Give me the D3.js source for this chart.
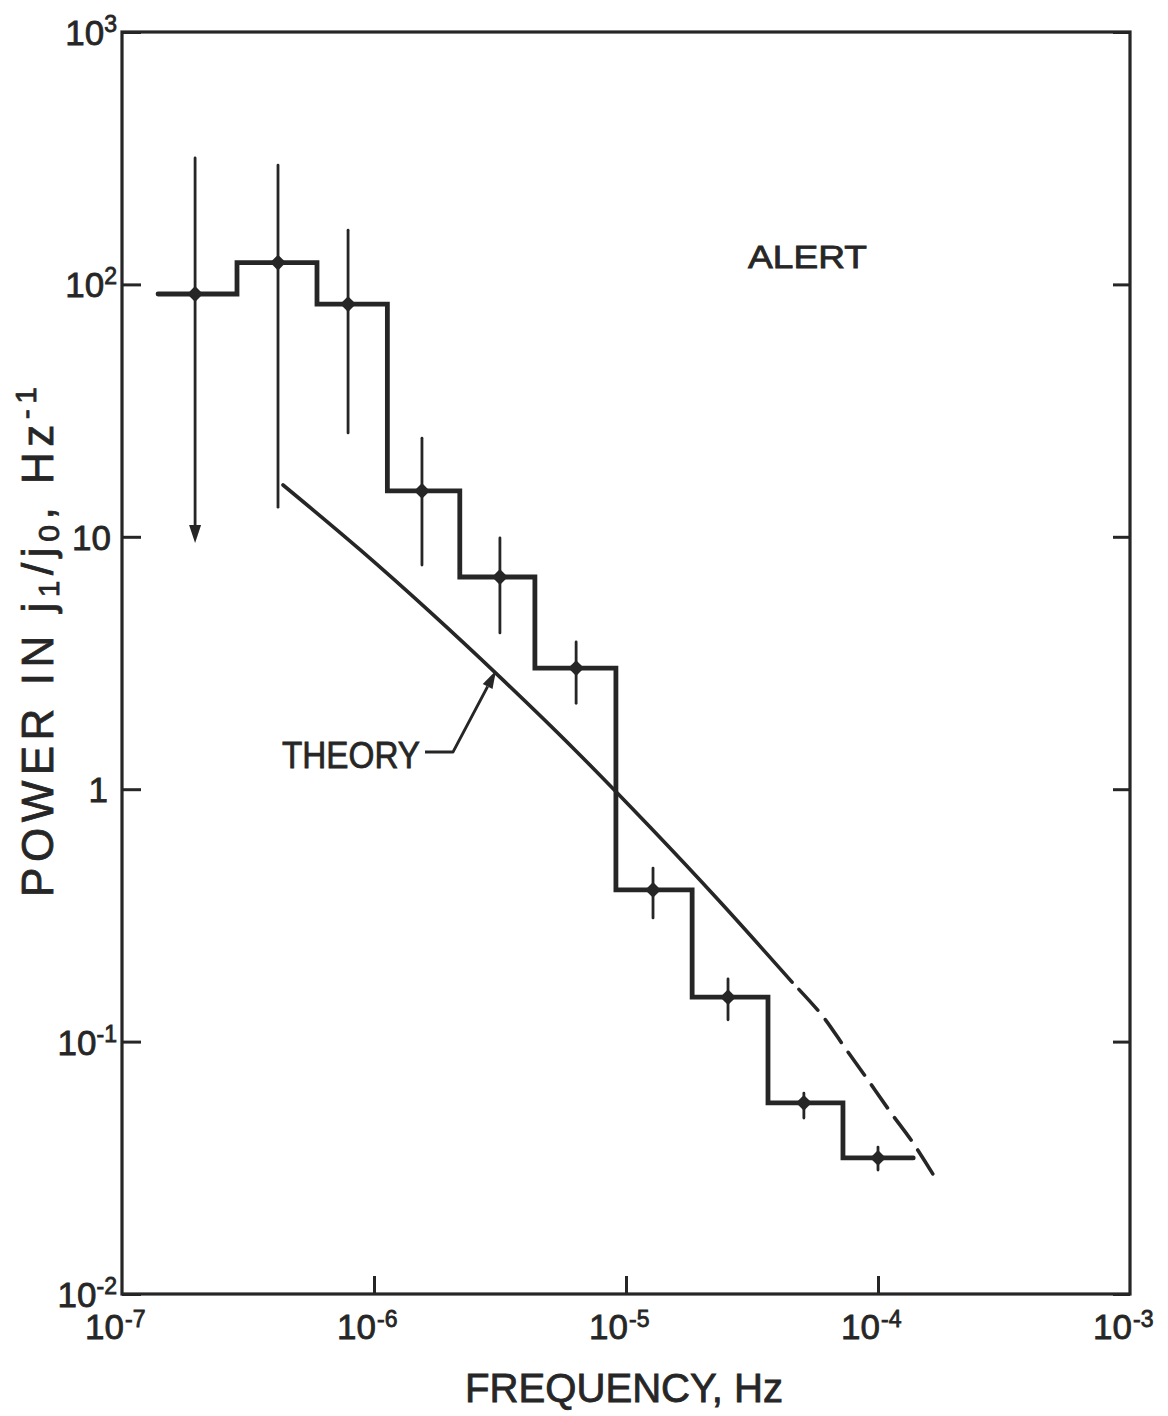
<!DOCTYPE html>
<html>
<head>
<meta charset="utf-8">
<script src="https://cdn.jsdelivr.net/npm/d3@7"></script>
<style>
  body { margin: 0; background: #ffffff; }
  svg { display: block; }
  text { font-family: "Liberation Sans", Arial, sans-serif; fill: #262626; stroke: #262626; stroke-width: 0.8; }
</style>
</head>
<body>
<svg id="chart" width="1168" height="1416"></svg>
<script>
// Histogram bins: edges in Hz and power level (Hz^-1) in each bin
const binEdges = [1.39e-7, 2.86e-7, 5.94e-7, 1.13e-6, 2.19e-6, 4.35e-6, 9.12e-6, 1.83e-5, 3.66e-5, 7.26e-5, 1.38e-4];
const binPower = [91.6, 122, 83.6, 15.2, 6.93, 3.02, 0.399, 0.150, 0.0572, 0.0346];

// Measured points with their error bars
const pointFreq  = [1.95e-7, 4.16e-7, 7.89e-7, 1.55e-6, 3.16e-6, 6.34e-6, 1.28e-5, 2.54e-5, 5.08e-5, 1.0e-4];
const pointPower = [91.6, 122, 83.6, 15.2, 6.93, 3.02, 0.399, 0.150, 0.0572, 0.0346];
const errUpper   = [317, 297, 164, 24.6, 9.89, 3.83, 0.487, 0.177, 0.0625, 0.0382];
const errLower   = [9.45, 13.1, 25.8, 7.73, 4.16, 2.19, 0.309, 0.122, 0.0498, 0.031];
const openLower  = [true, false, false, false, false, false, false, false, false, false];

// Theoretical spectrum: solid part, then dashed extrapolation
const theorySolidFreq  = [4.355e-7, 8.80e-7, 1.668e-6, 3.162e-6, 6.16e-6, 1.245e-5, 2.36e-5, 4.56e-5];
const theorySolidPower = [16.04, 8.89, 5.04, 2.78, 1.457, 0.708, 0.358, 0.172];
const theoryDashFreq   = [4.56e-5, 6.0e-5, 7.4e-5, 9.12e-5, 1.12e-4, 1.37e-4, 1.65e-4];
const theoryDashPower  = [0.172, 0.127, 0.0944, 0.0705, 0.0526, 0.040, 0.0299];

// Decade ticks (exponents of ten)
const xTickExps = [-7, -6, -5, -4, -3];
const yTickExps = [-2, -1, 0, 1, 2, 3];

const ink = "#262626";
const svg = d3.select("#chart");
const L = 122, R = 1130, T = 32, B = 1294;

const x = d3.scaleLog().domain([1e-7, 1e-3]).range([L, R]);
const y = d3.scaleLog().domain([1e-2, 1e3]).range([B, T]);

// Inward decade ticks on left, right and bottom
function styleAxis(g) {
  g.select(".domain").remove();
  g.selectAll(".tick line").attr("stroke", ink).attr("stroke-width", 3);
  g.selectAll(".tick text").remove();
}
const yVals = yTickExps.map(e => Math.pow(10, e));
const xVals = xTickExps.map(e => Math.pow(10, e));
svg.append("g").attr("transform", `translate(${L},0)`)
  .call(d3.axisRight(y).tickValues(yVals).tickSize(19)).call(styleAxis);
svg.append("g").attr("transform", `translate(${R},0)`)
  .call(d3.axisLeft(y).tickValues(yVals).tickSize(17)).call(styleAxis);
svg.append("g").attr("transform", `translate(0,${B})`)
  .call(d3.axisTop(x).tickValues(xVals.slice(1, -1)).tickSize(18)).call(styleAxis);

// Plot frame
svg.append("rect")
  .attr("x", L).attr("y", T).attr("width", R - L).attr("height", B - T)
  .attr("fill", "none").attr("stroke", ink).attr("stroke-width", 3.2);

// Y tick labels
yTickExps.forEach(e => {
  const yy = y(Math.pow(10, e)) + 13;
  if (e === 0 || e === 1) {
    svg.append("text").attr("x", e === 0 ? 108 : 111).attr("y", yy)
      .attr("text-anchor", "end").attr("font-size", 35)
      .text(e === 0 ? "1" : "10");
  } else {
    const t = svg.append("text").attr("x", 117).attr("y", yy)
      .attr("text-anchor", "end").attr("font-size", 35);
    t.append("tspan").text("10");
    t.append("tspan").attr("font-size", 23).attr("dy", -13)
      .text(e < 0 ? "-" + Math.abs(e) : String(e));
  }
});

// X tick labels
xTickExps.forEach(e => {
  const xx = x(Math.pow(10, e));
  svg.append("text").attr("x", xx + 2).attr("y", 1339)
    .attr("text-anchor", "end").attr("font-size", 35).text("10");
  svg.append("text").attr("x", xx + 3).attr("y", 1327)
    .attr("text-anchor", "start").attr("font-size", 23).text("-" + Math.abs(e));
});

// Axis titles
svg.append("text").attr("x", 624).attr("y", 1402)
  .attr("text-anchor", "middle").attr("font-size", 41)
  .attr("textLength", 318).attr("lengthAdjust", "spacingAndGlyphs")
  .text("FREQUENCY, Hz");

const yTitle = svg.append("text")
  .attr("transform", "translate(53,642) rotate(-90)")
  .attr("text-anchor", "middle").attr("font-size", 44)
  .attr("textLength", 510).attr("lengthAdjust", "spacing");
yTitle.append("tspan").text("POWER IN j");
yTitle.append("tspan").attr("font-size", 30).attr("dy", 6).text("1");
yTitle.append("tspan").attr("dy", -6).text("/j");
yTitle.append("tspan").attr("font-size", 30).attr("dy", 6).text("0");
yTitle.append("tspan").attr("dy", -6).text(", Hz");
yTitle.append("tspan").attr("font-size", 30).attr("dy", -17).text("-1");

// Step histogram
const stepPts = [];
binPower.forEach((p, i) => {
  stepPts.push([x(binEdges[i]), y(p)]);
  stepPts.push([x(binEdges[i + 1]), y(p)]);
});
svg.append("path")
  .attr("d", d3.line()(stepPts))
  .attr("fill", "none").attr("stroke", ink).attr("stroke-width", 4.8)
  .attr("stroke-linejoin", "miter").attr("stroke-linecap", "round");

// Error bars
pointFreq.forEach((f, i) => {
  const xx = x(f);
  const y1 = y(errUpper[i]);
  const y2 = y(errLower[i]);
  if (openLower[i]) {
    svg.append("line").attr("x1", xx).attr("x2", xx).attr("y1", y1).attr("y2", y2 - 12)
      .attr("stroke", ink).attr("stroke-width", 2.8).attr("stroke-linecap", "round");
    svg.append("path")
      .attr("d", `M${xx - 6},${y2 - 18}L${xx + 6},${y2 - 18}L${xx},${y2}Z`)
      .attr("fill", ink);
  } else {
    svg.append("line").attr("x1", xx).attr("x2", xx).attr("y1", y1).attr("y2", y2)
      .attr("stroke", ink).attr("stroke-width", 2.8).attr("stroke-linecap", "round");
  }
});

// Diamond markers
const diamond = d3.symbol().type(d3.symbolSquare).size(125);
pointFreq.forEach((f, i) => {
  svg.append("path").attr("d", diamond())
    .attr("transform", `translate(${x(f)},${y(pointPower[i])}) rotate(45)`)
    .attr("fill", ink);
});

// Theory curve
const theoryLine = d3.line().x(d => x(d[0])).y(d => y(d[1])).curve(d3.curveCatmullRom);
svg.append("path")
  .attr("d", theoryLine(theorySolidFreq.map((f, i) => [f, theorySolidPower[i]])))
  .attr("fill", "none").attr("stroke", ink).attr("stroke-width", 3.6)
  .attr("stroke-linecap", "round");
svg.append("path")
  .attr("d", theoryLine(theoryDashFreq.map((f, i) => [f, theoryDashPower[i]])))
  .attr("fill", "none").attr("stroke", ink).attr("stroke-width", 3.6)
  .attr("stroke-dasharray", "28 12").attr("stroke-dashoffset", 30)
  .attr("stroke-linecap", "round");

// THEORY label with leader arrow
svg.append("text").attr("x", 282).attr("y", 768)
  .attr("font-size", 36).attr("textLength", 138).attr("lengthAdjust", "spacingAndGlyphs")
  .text("THEORY");
const tip = [x(3.05e-6), y(2.95)];
const bend = [453, 752];
const ang = Math.atan2(tip[1] - bend[1], tip[0] - bend[0]);
const headLen = 18, headHalf = 5.5;
const base = [tip[0] - headLen * Math.cos(ang), tip[1] - headLen * Math.sin(ang)];
svg.append("path")
  .attr("d", `M425,752L${bend[0]},${bend[1]}L${base[0]},${base[1]}`)
  .attr("fill", "none").attr("stroke", ink).attr("stroke-width", 2.8)
  .attr("stroke-linejoin", "round");
const px = -Math.sin(ang) * headHalf, py = Math.cos(ang) * headHalf;
svg.append("path")
  .attr("d", `M${tip[0]},${tip[1]}L${base[0] + px},${base[1] + py}L${base[0] - px},${base[1] - py}Z`)
  .attr("fill", ink);

// Data set label
svg.append("text").attr("x", 748).attr("y", 268)
  .attr("font-size", 32).attr("textLength", 119).attr("lengthAdjust", "spacingAndGlyphs")
  .text("ALERT");
</script>
</body>
</html>
